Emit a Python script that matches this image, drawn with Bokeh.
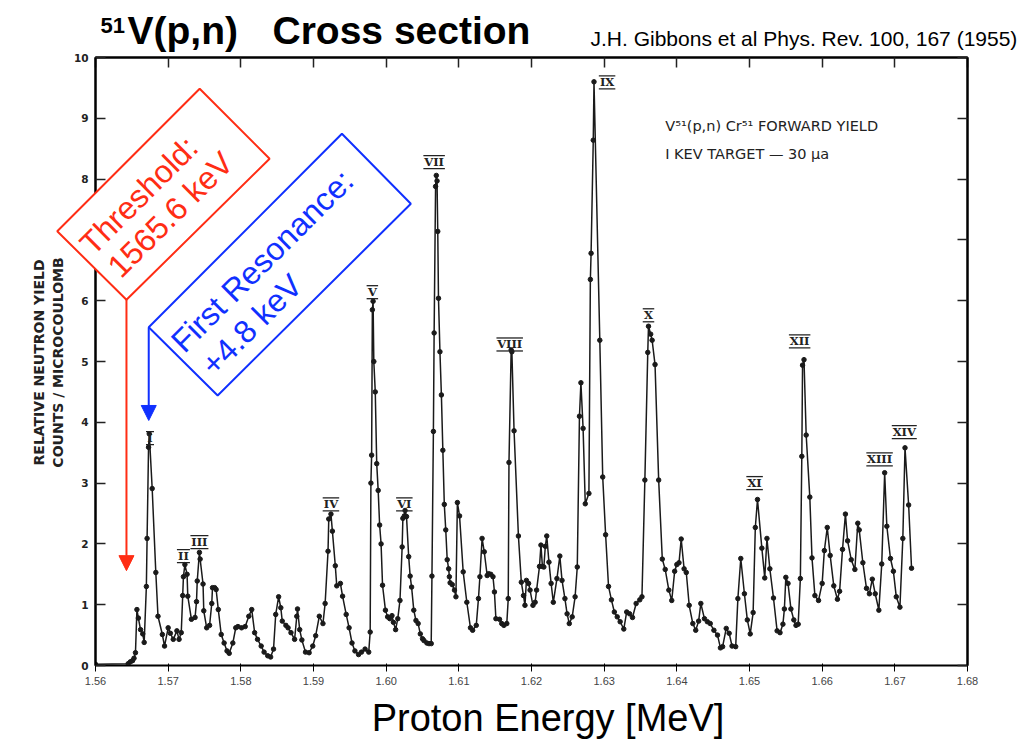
import math
from bokeh.plotting import figure
from bokeh.models import (Range1d, LinearAxis, FixedTicker, Label, PolyAnnotation,
                          Arrow, NormalHead, PrintfTickFormatter, CustomJSTickFormatter,
                          ColumnDataSource)
from bokeh.core.properties import value
from bokeh.embed import file_html
from bokeh.resources import INLINE

# ---------------- data ----------------
energy_mev = [
    1.5600, 1.5645, 1.5648, 1.5651, 1.5653, 1.5655, 1.5657, 1.5659, 1.5662, 1.5665,
    1.5667, 1.5670, 1.5671, 1.5673, 1.5674, 1.5678, 1.5683, 1.5686, 1.5692, 1.5695,
    1.5700, 1.5703, 1.5707, 1.5712, 1.5715, 1.5718, 1.5720, 1.5721, 1.5723, 1.5726,
    1.5727, 1.5732, 1.5737, 1.5739, 1.5740, 1.5743, 1.5744, 1.5748, 1.5749, 1.5753,
    1.5757, 1.5760, 1.5761, 1.5764, 1.5766, 1.5769, 1.5773, 1.5777, 1.5781, 1.5784,
    1.5789, 1.5793, 1.5796, 1.5801, 1.5806, 1.5811, 1.5815, 1.5819, 1.5823, 1.5828,
    1.5832, 1.5837, 1.5841, 1.5845, 1.5848, 1.5852, 1.5855, 1.5857, 1.5862, 1.5865,
    1.5869, 1.5874, 1.5877, 1.5878, 1.5881, 1.5884, 1.5889, 1.5894, 1.5899, 1.5903,
    1.5908, 1.5913, 1.5916, 1.5920, 1.5921, 1.5924, 1.5926, 1.5930, 1.5932, 1.5937,
    1.5940, 1.5945, 1.5949, 1.5953, 1.5957, 1.5962, 1.5966, 1.5971, 1.5976, 1.5978,
    1.5979, 1.5980, 1.5981, 1.5982, 1.5983, 1.5985, 1.5987, 1.5989, 1.5991, 1.5993,
    1.5995, 1.5999, 1.6002, 1.6005, 1.6008, 1.6010, 1.6013, 1.6016, 1.6019, 1.6022,
    1.6023, 1.6025, 1.6026, 1.6028, 1.6031, 1.6033, 1.6035, 1.6038, 1.6041, 1.6044,
    1.6047, 1.6050, 1.6052, 1.6056, 1.6059, 1.6062, 1.6063, 1.6065, 1.6066, 1.6068,
    1.6069, 1.6070, 1.6071, 1.6072, 1.6074, 1.6076, 1.6078, 1.6080, 1.6082, 1.6084,
    1.6086, 1.6087, 1.6088, 1.6091, 1.6094, 1.6096, 1.6098, 1.6101, 1.6106, 1.6111,
    1.6116, 1.6119, 1.6124, 1.6127, 1.6129, 1.6132, 1.6135, 1.6139, 1.6141, 1.6144,
    1.6147, 1.6149, 1.6151, 1.6156, 1.6159, 1.6162, 1.6166, 1.6168, 1.6169, 1.6172,
    1.6173, 1.6176, 1.6182, 1.6186, 1.6189, 1.6191, 1.6193, 1.6196, 1.6198, 1.6202,
    1.6205, 1.6207, 1.6211, 1.6213, 1.6215, 1.6217, 1.6219, 1.6221, 1.6224, 1.6227,
    1.6230, 1.6235, 1.6239, 1.6242, 1.6246, 1.6249, 1.6252, 1.6256, 1.6260, 1.6263,
    1.6266, 1.6268, 1.6271, 1.6274, 1.6279, 1.6281, 1.6282, 1.6285, 1.6286, 1.6294,
    1.6298, 1.6302, 1.6306, 1.6310, 1.6314, 1.6318, 1.6322, 1.6327, 1.6331, 1.6335,
    1.6339, 1.6344, 1.6349, 1.6352, 1.6356, 1.6360, 1.6361, 1.6364, 1.6366, 1.6370,
    1.6375, 1.6380, 1.6384, 1.6389, 1.6393, 1.6397, 1.6400, 1.6403, 1.6406, 1.6410,
    1.6413, 1.6417, 1.6422, 1.6426, 1.6430, 1.6433, 1.6438, 1.6442, 1.6446, 1.6451,
    1.6456, 1.6460, 1.6463, 1.6468, 1.6472, 1.6476, 1.6481, 1.6484, 1.6488, 1.6493,
    1.6497, 1.6501, 1.6505, 1.6508, 1.6511, 1.6517, 1.6521, 1.6524, 1.6528, 1.6533,
    1.6538, 1.6542, 1.6546, 1.6548, 1.6550, 1.6553, 1.6557, 1.6561, 1.6564, 1.6567,
    1.6570, 1.6572, 1.6573, 1.6575, 1.6578, 1.6583, 1.6586, 1.6590, 1.6595, 1.6600,
    1.6603, 1.6607, 1.6611, 1.6616, 1.6621, 1.6624, 1.6628, 1.6632, 1.6635, 1.6640,
    1.6645, 1.6649, 1.6651, 1.6656, 1.6661, 1.6665, 1.6669, 1.6673, 1.6678, 1.6682,
    1.6686, 1.6689, 1.6694, 1.6698, 1.6702, 1.6707, 1.6711, 1.6714, 1.6719, 1.6723,
]
neutron_yield = [
    0.02, 0.03, 0.06, 0.08, 0.12, 0.21, 0.92, 0.78, 0.59, 0.52,
    0.38, 1.30, 2.09, 3.59, 3.81, 2.91, 1.53, 0.81, 0.51, 0.32,
    0.62, 0.53, 0.43, 0.57, 0.43, 0.54, 1.15, 1.46, 1.66, 1.50,
    1.14, 0.76, 0.79, 1.05, 1.39, 1.86, 1.75, 1.34, 0.90, 0.62,
    0.66, 1.02, 1.28, 1.28, 1.25, 0.92, 0.51, 0.37, 0.24, 0.20,
    0.37, 0.62, 0.64, 0.62, 0.64, 0.81, 0.92, 0.54, 0.43, 0.32,
    0.22, 0.16, 0.14, 0.27, 0.84, 1.13, 0.95, 0.73, 0.66, 0.62,
    0.54, 0.43, 0.81, 0.93, 0.59, 0.42, 0.22, 0.21, 0.32, 0.49,
    0.81, 0.69, 1.02, 1.88, 2.41, 2.49, 2.21, 1.64, 1.31, 1.35,
    1.14, 0.84, 0.62, 0.37, 0.24, 0.18, 0.22, 0.27, 0.22, 0.55,
    3.00, 3.46, 5.85, 5.99, 5.00, 4.50, 3.32, 2.88, 2.31, 2.00,
    1.32, 0.91, 0.80, 0.77, 0.82, 0.71, 0.59, 0.77, 1.07, 1.95,
    2.42, 2.46, 2.55, 2.45, 1.79, 1.47, 1.29, 0.91, 0.74, 0.69,
    0.52, 0.44, 0.41, 0.37, 0.36, 0.36, 1.47, 3.85, 5.47, 7.88,
    8.06, 7.97, 7.14, 6.04, 5.16, 4.45, 3.54, 2.65, 2.23, 1.74,
    1.59, 1.46, 1.36, 1.33, 1.24, 1.13, 2.68, 2.46, 1.54, 1.04,
    0.62, 0.58, 0.66, 1.10, 1.46, 2.09, 1.87, 1.48, 1.51, 1.50,
    1.46, 1.21, 0.77, 0.76, 0.69, 0.66, 0.69, 1.10, 3.34, 5.19,
    5.16, 3.86, 2.13, 1.37, 1.15, 0.99, 1.40, 1.35, 1.24, 0.99,
    1.04, 1.24, 1.63, 1.98, 1.63, 1.62, 1.96, 2.13, 1.70, 1.35,
    1.04, 1.43, 1.80, 1.40, 1.10, 0.85, 0.69, 0.80, 1.13, 1.62,
    4.10, 4.65, 3.90, 2.66, 2.83, 6.35, 6.78, 8.64, 9.60, 5.35,
    3.10, 2.15, 1.30, 1.08, 0.88, 0.80, 0.72, 0.60, 0.88, 0.85,
    0.79, 1.02, 1.08, 1.13, 3.05, 5.15, 5.58, 5.45, 5.35, 4.95,
    3.05, 1.75, 1.58, 1.24, 1.07, 1.55, 1.66, 1.69, 2.08, 1.59,
    1.53, 0.99, 0.69, 0.58, 0.73, 1.02, 0.77, 0.72, 0.69, 0.58,
    0.50, 0.29, 0.31, 0.61, 0.53, 0.32, 0.31, 1.10, 1.76, 1.18,
    0.75, 0.52, 0.87, 2.27, 2.73, 1.93, 1.44, 2.09, 1.59, 1.11,
    0.57, 0.54, 0.68, 0.93, 1.45, 1.35, 0.93, 0.75, 0.66, 0.68,
    1.43, 3.44, 4.94, 5.03, 3.79, 2.77, 1.77, 1.15, 1.07, 1.35,
    1.89, 2.27, 1.81, 1.31, 1.09, 1.22, 1.91, 2.49, 2.05, 1.74,
    1.58, 2.34, 2.23, 1.69, 1.27, 1.18, 1.42, 1.18, 0.91, 1.67,
    3.17, 2.29, 1.76, 1.55, 1.13, 0.96, 2.09, 3.58, 2.64, 1.60,
]

resonance_names = ["I", "II", "III", "IV", "V", "VI", "VII", "VIII", "IX", "X",
                   "XI", "XII", "XIII", "XIV"]
resonance_label_e = [1.5675, 1.5721, 1.5743, 1.5924, 1.5981, 1.6025, 1.6066, 1.6170,
                     1.6304, 1.6361, 1.6507, 1.6569, 1.6679, 1.6713]
resonance_label_v = [3.74, 1.80, 2.03, 2.65, 6.14, 2.65, 8.28, 5.28,
                     9.59, 5.76, 3.00, 5.33, 3.39, 3.84]

x_tick_values = [1.56, 1.57, 1.58, 1.59, 1.60, 1.61, 1.62, 1.63, 1.64, 1.65, 1.66, 1.67, 1.68]
y_tick_values = [0, 1, 2, 3, 4, 5, 6, 7, 8, 9, 10]

threshold_kev = 1565.6
first_resonance_offset_kev = 4.8

RED = "#ff2d14"
BLUE = "#1030ff"
SANS = "Liberation Sans"
INK = "#1a1a1a"

W, H = 1031, 740
B_LEFT, B_RIGHT, B_TOP, B_BOTTOM = 95, 64, 57, 75
X0, X1, Y0, Y1 = 1.56, 1.68, 0.0, 10.0

# ---------------- main chart ----------------
p = figure(width=W, height=H, output_backend="svg", toolbar_location=None,
           x_range=Range1d(X0, X1), y_range=Range1d(Y0, Y1),
           min_border_left=B_LEFT, min_border_right=B_RIGHT, min_border_top=B_TOP,
           min_border_bottom=B_BOTTOM, background_fill_color="white",
           border_fill_color="white")
p.grid.visible = False
p.outline_line_color = "black"
p.outline_line_width = 2

p.xaxis.ticker = FixedTicker(ticks=x_tick_values)
p.xaxis.formatter = PrintfTickFormatter(format="%.2f")
p.yaxis.ticker = FixedTicker(ticks=y_tick_values)

blank = CustomJSTickFormatter(code="return ''")
top_axis = LinearAxis(ticker=FixedTicker(ticks=x_tick_values), formatter=blank)
right_axis = LinearAxis(ticker=FixedTicker(ticks=y_tick_values), formatter=blank)
p.add_layout(top_axis, "above")
p.add_layout(right_axis, "right")

for ax in [p.xaxis[0], p.yaxis[0], top_axis, right_axis]:
    ax.axis_line_width = 2
    ax.axis_line_color = "black"
    ax.major_tick_in = 10
    ax.major_tick_out = 0
    ax.minor_tick_in = 0
    ax.minor_tick_out = 0
    ax.major_tick_line_width = 1.5
    ax.major_tick_line_color = "#222222"
    ax.major_label_text_font = "DejaVu Sans"
    ax.major_label_text_font_style = "bold"
    ax.major_label_text_font_size = "10.5px"
    ax.major_label_text_color = "#222222"
p.xaxis[0].major_label_standoff = 0
p.yaxis[0].major_label_standoff = 7

src = ColumnDataSource(data=dict(e=energy_mev, y=neutron_yield))
p.line("e", "y", source=src, line_color=INK, line_width=1.5)
p.scatter("e", "y", source=src, size=4.5, color=INK)

# resonance numerals with the bar above and below, as in the original
char_px = {"I": 5.0, "V": 8.5, "X": 8.5}
px_per_x = (W - B_LEFT - B_RIGHT) / (X1 - X0)
px_per_y = (H - B_TOP - B_BOTTOM) / (Y1 - Y0)
half_w = [(sum(char_px[c] for c in n) / 2 + 1.5) / px_per_x for n in resonance_names]
bar_dy = 6.5 / px_per_y
lab_src = ColumnDataSource(data=dict(
    e=resonance_label_e, v=resonance_label_v, t=resonance_names,
    e0=[e - h for e, h in zip(resonance_label_e, half_w)],
    e1=[e + h for e, h in zip(resonance_label_e, half_w)],
    vt=[v + bar_dy for v in resonance_label_v],
    vb=[v - bar_dy for v in resonance_label_v]))
p.text("e", "v", text="t", source=lab_src, text_font=value("DejaVu Serif"),
       text_font_style="bold", text_font_size="11.5px", text_align="center",
       text_baseline="middle", text_color="#222222")
p.segment("e0", "vt", "e1", "vt", source=lab_src, line_color="#222222", line_width=1.3)
p.segment("e0", "vb", "e1", "vb", source=lab_src, line_color="#222222", line_width=1.3)

p.add_layout(Label(x=1.6384, y=8.88, text="V\u2075\u00b9(p,n) Cr\u2075\u00b9 FORWARD YIELD",
                   text_font="DejaVu Sans", text_font_size="14.5px",
                   text_baseline="middle", text_color="#222222"))
p.add_layout(Label(x=1.6384, y=8.42, text="I KEV TARGET \u2014 30 \u03bca",
                   text_font="DejaVu Sans", text_font_size="14.5px",
                   text_baseline="middle", text_color="#222222"))

# ---------------- overlay: same data scale, frame = whole canvas ----------------
q = figure(width=W, height=H, output_backend="svg", toolbar_location=None,
           x_range=Range1d(X0 - B_LEFT / px_per_x, X1 + B_RIGHT / px_per_x),
           y_range=Range1d(Y0 - B_BOTTOM / px_per_y, Y1 + B_TOP / px_per_y),
           min_border=0, x_axis_type=None, y_axis_type=None,
           background_fill_color=None, border_fill_color=None)
q.grid.visible = False
q.outline_line_color = None
q.styles = {"position": "absolute", "top": "0px", "left": "0px", "z-index": "5"}

q.add_layout(PolyAnnotation(xs=[1.574337, 1.583959, 1.564261, 1.554735],
                            ys=[9.485, 8.334, 6.015, 7.143],
                            fill_color="white", fill_alpha=1.0,
                            line_color=RED, line_alpha=1.0, line_width=2))
q.add_layout(PolyAnnotation(xs=[1.593911, 1.603395, 1.576811, 1.567326],
                            ys=[8.745, 7.594, 4.441, 5.564],
                            fill_color="white", fill_alpha=1.0,
                            line_color=BLUE, line_alpha=1.0, line_width=2))
q.add_layout(Arrow(end=NormalHead(size=15, fill_color=RED, line_color=RED),
                   x_start=1.564261, y_start=6.015, x_end=1.564261, y_end=1.56,
                   line_color=RED, line_width=2))
q.add_layout(Arrow(end=NormalHead(size=15, fill_color=BLUE, line_color=BLUE),
                   x_start=1.567326, y_start=5.564, x_end=1.567326, y_end=4.03,
                   line_color=BLUE, line_width=2))

for x, y, t, c in [
    (1.558612, 6.852, "Threshold:", RED),
    (1.562433, 6.475, f"{threshold_kev} keV", RED),
    (1.571175, 5.247, "First Resonance:", BLUE),
    (1.575299, 4.863, f"+{first_resonance_offset_kev} keV", BLUE),
]:
    q.add_layout(Label(x=x, y=y, text=t, angle=math.pi / 4, text_font=SANS,
                       text_font_size="32px", text_color=c,
                       text_align="left", text_baseline="middle"))

q.add_layout(Label(x=1.560688, y=10.52, text="51", text_font=SANS, text_font_style="bold",
                   text_font_size="22px", text_baseline="middle", text_color="black"))
q.add_layout(Label(x=1.564404, y=10.436, text="V(p,n)", text_font=SANS, text_font_style="bold",
                   text_font_size="39px", text_baseline="middle", text_color="black"))
q.add_layout(Label(x=1.584358, y=10.436, text="Cross section", text_font=SANS,
                   text_font_style="bold", text_font_size="39px",
                   text_baseline="middle", text_color="black"))
q.add_layout(Label(x=1.628119, y=10.318,
                   text="J.H. Gibbons et al Phys. Rev. 100, 167 (1955)",
                   text_font=SANS, text_font_size="21px",
                   text_baseline="middle", text_color="black"))
q.add_layout(Label(x=1.622271, y=-0.868, text="Proton Energy [MeV]", text_font=SANS,
                   text_font_size="38px", text_align="center",
                   text_baseline="middle", text_color="black"))
q.add_layout(Label(x=1.552156, y=4.984, text="RELATIVE NEUTRON YIELD", angle=math.pi / 2,
                   text_font="DejaVu Sans", text_font_style="bold", text_font_size="14px",
                   text_align="center", text_baseline="middle", text_color="#222222"))
q.add_layout(Label(x=1.554908, y=4.984, text="COUNTS / MICROCOULOMB", angle=math.pi / 2,
                   text_font="DejaVu Sans", text_font_style="bold", text_font_size="14px",
                   text_align="center", text_baseline="middle", text_color="#222222"))

open("out.html", "w").write(file_html([p, q], INLINE))
